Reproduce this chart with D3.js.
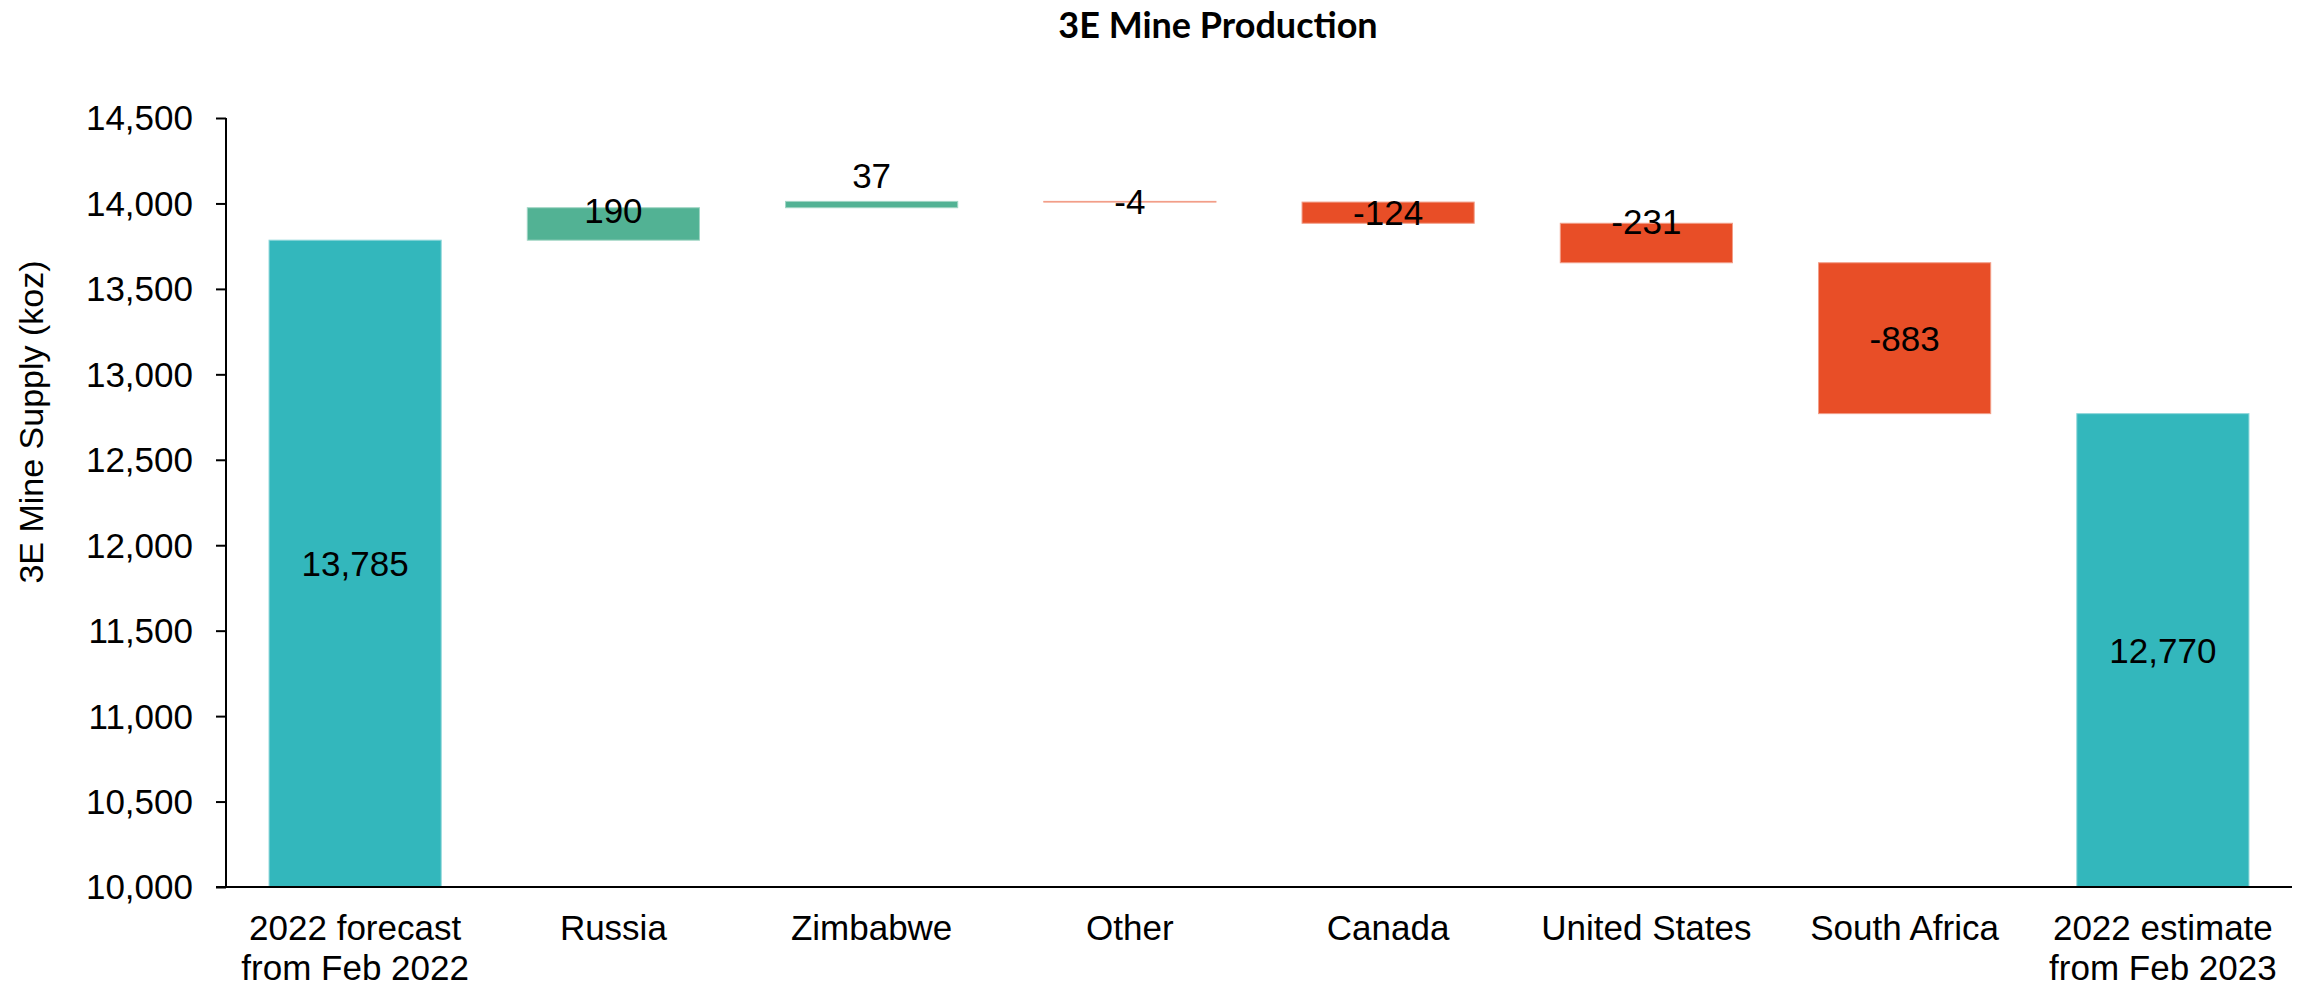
<!DOCTYPE html>
<html>
<head>
<meta charset="utf-8">
<script src="https://cdn.jsdelivr.net/npm/d3@7"></script>
<style>
  html, body { margin: 0; padding: 0; background: #fff; }
  svg { display: block; }
</style>
</head>
<body>
<svg id="chart" width="2303" height="989"></svg>
<script>
// ---- data ----
const categories = [
  "2022 forecast|from Feb 2022",
  "Russia",
  "Zimbabwe",
  "Other",
  "Canada",
  "United States",
  "South Africa",
  "2022 estimate|from Feb 2023"
];
const values = [13785, 190, 37, -4, -124, -231, -883, 12770];
const kinds = ["total", "delta", "delta", "delta", "delta", "delta", "delta", "total"];
const yTicks = [10000, 10500, 11000, 11500, 12000, 12500, 13000, 13500, 14000, 14500];
const titleText = "3E Mine Production";
const yTitleText = "3E Mine Supply (koz)";

// ---- style / layout ----
const colors = { total: "#33B7BC", up: "#52B294", down: "#E84E27" };
const labelNudge = [0, -14, -29, 0, 0, -22, 0, 0]; // px shift of the value labels
const plot = { left: 226, right: 2292, top: 118, bottom: 887 };
const svg = d3.select("#chart");

// build waterfall segments
let running = 0;
const segs = values.map((v, i) => {
  let lo, hi;
  if (kinds[i] === "total") { lo = yTicks[0]; hi = v; running = v; }
  else { const s = running; running = s + v; lo = Math.min(s, running); hi = Math.max(s, running); }
  return { cat: categories[i], v, kind: kinds[i], lo, hi, i };
});

const x = d3.scaleBand().domain(categories).range([plot.left, plot.right])
  .paddingInner(1/3).paddingOuter(1/6);
const y = d3.scaleLinear().domain([yTicks[0], yTicks[yTicks.length - 1]]).range([plot.bottom, plot.top]);

const fillOf = d => d.kind === "total" ? colors.total : (d.v >= 0 ? colors.up : colors.down);

// bars
svg.append("g").selectAll("rect").data(segs).join("rect")
  .attr("x", d => x(d.cat))
  .attr("width", x.bandwidth())
  .attr("y", d => y(d.hi))
  .attr("height", d => Math.max(0, y(d.lo) - y(d.hi)))
  .attr("fill", fillOf)
  .attr("stroke", d => d3.interpolateRgb(fillOf(d), "#ffffff")(0.45))
  .attr("stroke-width", 1);

// y axis
const yAxis = d3.axisLeft(y).tickValues(yTicks).tickFormat(d3.format(",")).tickSize(10).tickPadding(23);
const gy = svg.append("g").attr("transform", `translate(${plot.left},0)`).call(yAxis);
gy.select(".domain").attr("stroke", "#000").attr("stroke-width", 2).attr("d", `M0,${plot.top}V${plot.bottom}`);
gy.selectAll(".tick line").attr("stroke", "#000").attr("stroke-width", 2);
gy.selectAll(".tick text").attr("font-family", "'Liberation Sans', Arial, sans-serif")
  .attr("font-size", 35).attr("fill", "#000").attr("dy", "0.34em");

// x axis line
const xAxis = d3.axisBottom(x).tickSize(0).tickFormat("");
const gx = svg.append("g").attr("transform", `translate(0,${plot.bottom})`).call(xAxis);
gx.select(".domain").attr("stroke", "#000").attr("stroke-width", 2)
  .attr("d", `M${plot.left - 10},0H${plot.right}`);

// category labels
const catG = svg.append("g").attr("font-family", "'Liberation Sans', Arial, sans-serif")
  .attr("font-size", 35).attr("fill", "#000").attr("text-anchor", "middle");
categories.forEach(c => {
  const t = catG.append("text").attr("x", x(c) + x.bandwidth() / 2).attr("y", plot.bottom + 53);
  c.split("|").forEach((line, k) => {
    t.append("tspan").attr("x", x(c) + x.bandwidth() / 2).attr("dy", k === 0 ? 0 : 40).text(line);
  });
});

// value labels
svg.append("g").selectAll("text").data(segs).join("text")
  .attr("x", d => x(d.cat) + x.bandwidth() / 2)
  .attr("y", d => (y(d.lo) + y(d.hi)) / 2 + labelNudge[d.i])
  .attr("dy", "0.36em")
  .attr("text-anchor", "middle")
  .attr("font-family", "'Liberation Sans', Arial, sans-serif")
  .attr("font-size", 35).attr("fill", "#000")
  .text(d => d.kind === "total" ? d3.format(",")(d.v) : String(d.v));

// title
svg.append("text").attr("x", 1218).attr("y", 38).attr("text-anchor", "middle")
  .attr("font-family", "Lato, 'Open Sans', sans-serif").attr("font-weight", "bold")
  .attr("font-size", 36).attr("fill", "#000").text(titleText);

// y axis title
svg.append("text").attr("transform", `translate(43,422) rotate(-90)`).attr("text-anchor", "middle")
  .attr("font-family", "'Liberation Sans', Arial, sans-serif")
  .attr("font-size", 34).attr("fill", "#000").text(yTitleText);
</script>
</body>
</html>
